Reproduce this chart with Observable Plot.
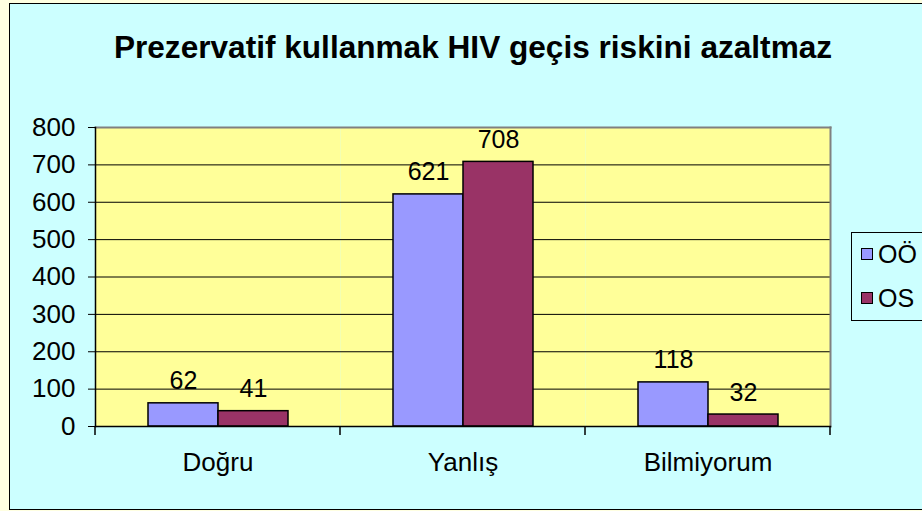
<!DOCTYPE html>
<html>
<head>
<meta charset="utf-8">
<script src="https://cdn.jsdelivr.net/npm/d3@7"></script>
<script src="https://cdn.jsdelivr.net/npm/@observablehq/plot@0.6"></script>
<style>
  html, body { margin: 0; padding: 0; width: 922px; height: 511px; overflow: hidden; background: #FFFFE1; font-family: "Liberation Sans", Arial, sans-serif; }
  #frame { position: absolute; left: 9px; top: 3px; width: 940px; height: 505px; background: #CCFFFF; border: 1px solid #000; }
  #title { position: absolute; left: 9px; width: 928px; top: 27px; text-align: center; font-weight: bold; font-size: 31.6px; line-height: 40px; color: #000; }
  #chart { position: absolute; left: 0; top: 0; }
  #legend { position: absolute; left: 851px; top: 232px; width: 110px; height: 87px; border: 1px solid #000; background: #CCFFFF; }
  .item { position: absolute; left: 9px; height: 28px; display: flex; align-items: center; font-size: 25px; color: #000; }
  .sw { width: 10px; height: 10px; border: 1px solid #000; margin-right: 5px; }
</style>
</head>
<body>
<div id="frame"></div>
<div id="title">Prezervatif kullanmak HIV geçis riskini azaltmaz</div>
<div id="chart"></div>
<div id="legend"></div>
<script>
const categories = ["Doğru", "Yanlış", "Bilmiyorum"];
const series = ["OÖ", "OS"];
const valuesOO = [62, 621, 118];
const valuesOS = [41, 708, 32];
const yTicks = [0, 100, 200, 300, 400, 500, 600, 700, 800];
const colors = ["#9999FF", "#993366"];

const data = categories.flatMap((c, i) => [
  {cat: c, s: series[0], v: valuesOO[i]},
  {cat: c, s: series[1], v: valuesOS[i]}
]);

const plot = Plot.plot({
  width: 922,
  height: 511,
  marginLeft: 95,
  marginRight: 92,
  marginTop: 127,
  marginBottom: 85,
  style: {background: "transparent", fontFamily: "'Liberation Sans', Arial, sans-serif", fontSize: "25px", color: "#000", overflow: "visible"},
  fx: {domain: categories, padding: 0, label: null},
  x: {domain: series, paddingInner: 0, paddingOuter: 0.75, axis: null},
  y: {domain: [0, 800], label: null},
  color: {domain: series, range: colors},
  marks: [
    Plot.frame({fill: "#FFFF99", stroke: "none"}),
    Plot.ruleY(yTicks.filter(t => t > 0 && t < 800), {stroke: "#000", strokeWidth: 1}),
    Plot.barY(data, {fx: "cat", x: "s", y: "v", fill: "s", stroke: "#000", strokeWidth: 1.5}),
    Plot.text(data, {fx: "cat", x: "s", y: "v", text: d => String(d.v), lineAnchor: "bottom", dy: -14, fontSize: 25, fill: "#000"}),
    Plot.frame({facet: "super", anchor: "top", stroke: "#808080", strokeWidth: 2}),
    Plot.frame({facet: "super", anchor: "right", stroke: "#808080", strokeWidth: 2}),
    Plot.frame({facet: "super", anchor: "left", stroke: "#000", strokeWidth: 1.5}),
    Plot.frame({facet: "super", anchor: "bottom", stroke: "#000", strokeWidth: 1.5}),
    Plot.axisY({ticks: yTicks, tickSize: 7, tickPadding: 13, fontSize: 26, label: null, tickFormat: d => String(d)}),
    Plot.axisFx({anchor: "bottom", tickSize: 0, tickPadding: 26, fontSize: 26, label: null})
  ]
});

// category boundary ticks under the x axis, from the fx scale
const fx = plot.scale("fx");
const y = plot.scale("y");
const y0 = y.apply(0);
const bounds = categories.map(c => fx.apply(c)).concat([fx.apply(categories[categories.length - 1]) + fx.bandwidth]);
d3.select(plot).append("g")
  .selectAll("line").data(bounds).join("line")
  .attr("x1", d => d).attr("x2", d => d)
  .attr("y1", y0).attr("y2", y0 + 9)
  .attr("stroke", "#000").attr("stroke-width", 1.5);

document.getElementById("chart").appendChild(plot);

const legend = d3.select("#legend");
series.forEach((s, i) => {
  const it = legend.append("div").attr("class", "item").style("top", (7 + i * 44) + "px");
  it.append("div").attr("class", "sw").style("background", colors[i]);
  it.append("span").text(s);
});
</script>
</body>
</html>
